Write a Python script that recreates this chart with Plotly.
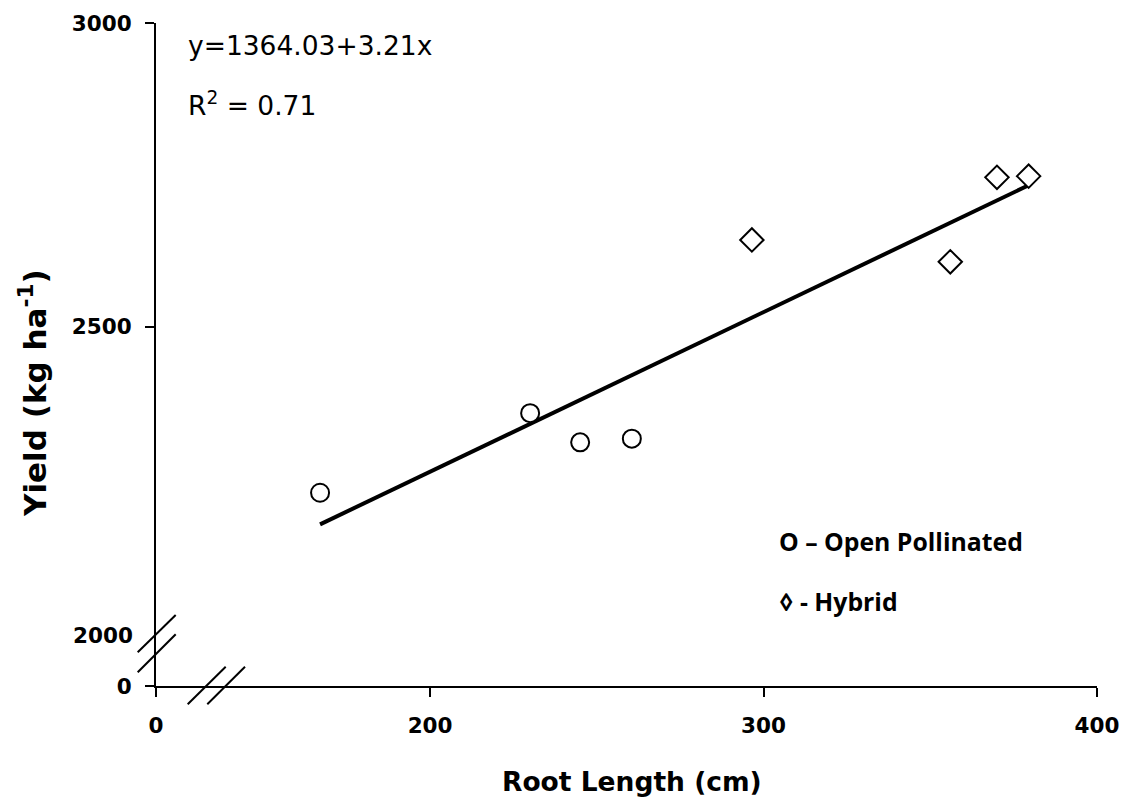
import plotly.graph_objects as go

# ---- data ----
op_x = [167, 230, 245, 260.5]          # open pollinated: root length (cm)
op_y = [2227, 2358, 2310, 2316]        # yield (kg/ha)
hy_x = [296.5, 356, 370, 379.5]        # hybrid: root length (cm)
hy_y = [2643, 2607, 2746, 2748]        # yield (kg/ha)
fit_x = [167, 379.5]                   # regression line ends
fit_y = [2175, 2733]

x_tickvals = [117.8, 200, 300, 400]
x_ticktext = ["0", "200", "300", "400"]
y_tickvals = [1909, 2500, 3000]
y_ticktext = ["0", "2500", "3000"]

# ---- layout geometry ----
W, H = 1134, 800
L, R, T, B = 156, 37, 23, 114
PW, PH = W - L - R, H - T - B

def px(x):
    return (x - L) / PW

def py(y):
    return (H - B - y) / PH

fig = go.Figure()

fig.add_trace(go.Scatter(x=fit_x, y=fit_y, mode="lines",
                         line=dict(color="black", width=4),
                         showlegend=False, hoverinfo="skip"))
fig.add_trace(go.Scatter(x=op_x, y=op_y, mode="markers",
                         marker=dict(symbol="circle", size=18, color="white",
                                     line=dict(color="black", width=2)),
                         showlegend=False))
fig.add_trace(go.Scatter(x=hy_x, y=hy_y, mode="markers",
                         marker=dict(symbol="diamond", size=18, color="white",
                                     line=dict(color="black", width=2)),
                         showlegend=False))

tickfont = dict(family="DejaVu Sans", size=21.5, color="black", weight="bold")
axis_common = dict(showgrid=False, zeroline=False, showline=True,
                   linecolor="black", linewidth=2, ticks="outside",
                   ticklen=9, tickwidth=2, tickcolor="black", tickfont=tickfont)

fig.update_xaxes(range=[117.8, 400], tickmode="array", tickvals=x_tickvals,
                 ticktext=x_ticktext, ticklabelstandoff=10, **axis_common)
fig.update_yaxes(range=[1909, 3000], tickmode="array", tickvals=y_tickvals,
                 ticktext=y_ticktext, ticklabelstandoff=9, **axis_common)

bold = dict(family="DejaVu Sans", color="black", weight="bold")
anns = [
    dict(x=px(632), y=py(781), text="Root Length (cm)",
         font=dict(size=26.5, **bold)),
    dict(x=px(33), y=py(393), text="Yield (kg ha<sup>-1</sup>)", textangle=-90,
         font=dict(size=31, **bold)),
    dict(x=px(186), y=py(45), xanchor="left", text="y=1364.03+3.21x",
         font=dict(family="DejaVu Sans", size=26.5, color="black")),
    dict(x=px(186), y=py(104), xanchor="left", text="R<sup>2</sup> = 0.71",
         font=dict(family="DejaVu Sans", size=26.5, color="black")),
    dict(x=px(777), y=py(541), xanchor="left", text="O – Open Pollinated",
         font=dict(family="Open Sans", size=24.8, color="black", weight="bold")),
    dict(x=px(777), y=py(601), xanchor="left", text="◊ - Hybrid",
         font=dict(family="Open Sans", size=24.8, color="black", weight="bold")),
    dict(x=px(135), y=py(635), xanchor="right", text="2000", font=tickfont),
]
for a in anns:
    a.update(xref="paper", yref="paper", showarrow=False)
    a.setdefault("xanchor", "center")
    a.setdefault("yanchor", "middle")
fig.update_layout(annotations=anns)

# axis break marks
breaks = [((137.7, 652.3), (175.7, 615.0)),
          ((137.7, 672.3), (175.7, 634.3)),
          ((187.7, 704.3), (225.7, 666.7)),
          ((207.3, 704.3), (245.0, 666.7))]
for (x0, y0), (x1, y1) in breaks:
    fig.add_shape(type="line", xref="paper", yref="paper",
                  x0=px(x0), y0=py(y0), x1=px(x1), y1=py(y1),
                  line=dict(color="black", width=2))

fig.update_layout(width=W, height=H, autosize=False,
                  margin=dict(l=L, r=R, t=T, b=B),
                  plot_bgcolor="white", paper_bgcolor="white")

fig.write_html("out.html")
